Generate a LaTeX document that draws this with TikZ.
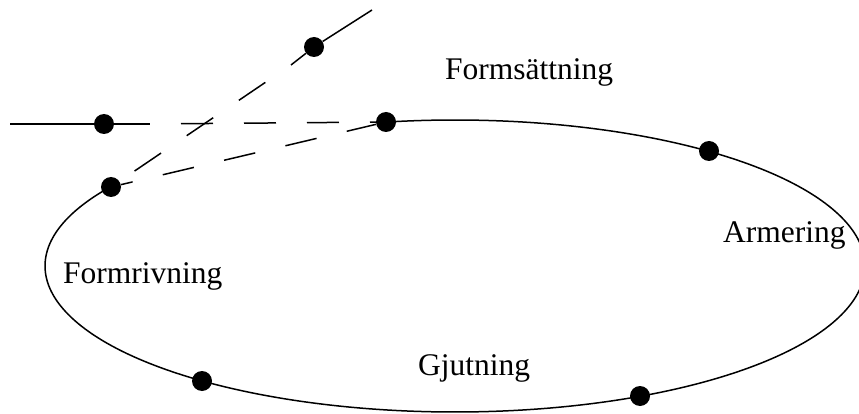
\documentclass[tikz,border=0pt]{standalone}
\usepackage{fontspec}
\setmainfont{Liberation Serif}
\begin{document}
\begin{tikzpicture}[x=1pt,y=-1pt,
  dot/.style={circle,fill=black,inner sep=0pt,minimum size=20pt},
  curve/.style={line width=1.5pt},
  dashline/.style={line width=1.5pt,dash pattern=on 32pt off 31pt},
  lbl/.style={font=\fontsize{31.5}{36}\selectfont,anchor=base west,inner sep=0pt}]
\useasboundingbox (0,0) rectangle (859,414);
\clip (0,0) rectangle (859,414);
% the cycle (ellipse, open at the upper left)
\draw[curve] plot[domain=147:459.7,samples=300,smooth] ({455+410*cos(\x)},{266-146*sin(\x)});
% dots
\node[dot] (a) at (104,124) {};
\node[dot] (b) at (314,47) {};
\node[dot] (f) at (386,122) {};
\node[dot] (g) at (709,151) {};
\node[dot] (e) at (111,187) {};
\node[dot] (d) at (202,381) {};
\node[dot] (c) at (640,396) {};
% connectors
\coordinate (h0) at (10,124);
\coordinate (h1) at (150,124);
\coordinate (s0) at (372,10);
\coordinate (s1) at (291,65);
\draw[curve] (h0) -- (a) -- (h1);
\draw[dashline,dash phase=32pt] (h1) -- (f);
\draw[curve] (s0) -- (b) -- (s1);
\draw[dashline,dash phase=32pt] (s1) -- (e);
\draw[dashline,dash phase=20pt] (e) -- (f);
% labels
\node[lbl] (l1) at (445,80) {Formsättning};
\node[lbl] (l2) at (723,242) {Armering};
\node[lbl] (l3) at (63,283) {Formrivning};
\node[lbl] (l4) at (418,375) {Gjutning};
\end{tikzpicture}
\end{document}
